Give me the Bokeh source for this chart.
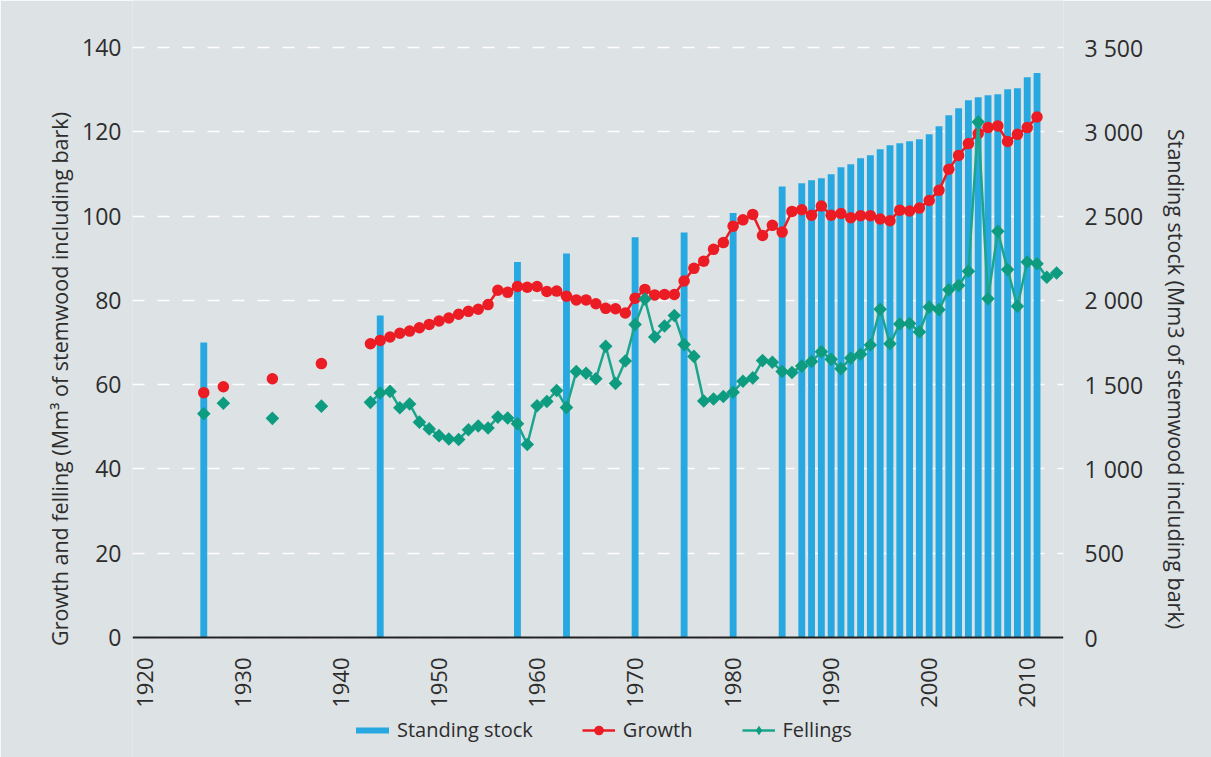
import math
from bokeh.plotting import figure
from bokeh.models import Range1d, LinearAxis, FixedTicker, Legend, LegendItem
from bokeh.embed import file_html
from bokeh.resources import INLINE

# ---------------- data ----------------
stock_years = [1926, 1944, 1958, 1963, 1970, 1975, 1980, 1985,
               1987, 1988, 1989, 1990, 1991, 1992, 1993, 1994, 1995, 1996,
               1997, 1998, 1999, 2000, 2001, 2002, 2003, 2004, 2005, 2006,
               2007, 2008, 2009, 2010, 2011]
standing_stock = [1750, 1910, 2228, 2278, 2375, 2403, 2518, 2676,
                  2694, 2712, 2724, 2748, 2789, 2807, 2843, 2861, 2896, 2920,
                  2932, 2944, 2955, 2985, 3033, 3098, 3139, 3187, 3205, 3217,
                  3223, 3253, 3259, 3323, 3348]

early_years = [1926, 1928, 1933, 1938]
growth_early = [58.1, 59.5, 61.4, 65.0]
fellings_early = [53.1, 55.6, 52.0, 54.9]

growth_start = 1943
growth = [69.7, 70.5, 71.3, 72.2, 72.7, 73.5, 74.3, 75.1, 75.8, 76.7,
          77.4, 77.9, 79.0, 82.4, 81.9, 83.3, 83.1, 83.3, 82.1, 82.2,
          81.0, 80.1, 80.1, 79.2, 78.1, 78.0, 77.0, 80.5, 82.6, 81.3,
          81.4, 81.4, 84.6, 87.6, 89.3, 92.1, 93.7, 97.6, 99.1, 100.4,
          95.4, 97.8, 96.2, 101.1, 101.5, 100.2, 102.4, 100.2, 100.6, 99.6,
          100.1, 100.1, 99.3, 98.9, 101.4, 101.2, 101.9, 103.7, 106.1, 111.1,
          114.4, 117.2, 119.6, 121.0, 121.4, 117.7, 119.4, 121.0, 123.5]

fellings_start = 1943
fellings = [55.8, 58.0, 58.4, 54.5, 55.4, 51.1, 49.5, 47.9, 47.1, 47.0,
            49.3, 50.2, 49.7, 52.3, 52.1, 50.7, 45.8, 55.0, 56.0, 58.6,
            54.6, 63.1, 62.7, 61.4, 69.1, 60.3, 65.6, 74.3, 80.3, 71.3,
            73.9, 76.4, 69.5, 66.7, 56.1, 56.6, 57.2, 58.2, 60.8, 61.6,
            65.7, 65.3, 63.1, 62.9, 64.4, 65.5, 67.8, 66.0, 63.8, 66.3,
            67.2, 69.4, 77.9, 69.7, 74.4, 74.5, 72.5, 78.4, 77.8, 82.5,
            83.5, 86.9, 122.3, 80.4, 96.4, 87.3, 78.6, 89.1, 88.7, 85.5,
            86.5]

growth_years = list(range(growth_start, growth_start + len(growth)))
fellings_years = list(range(fellings_start, fellings_start + len(fellings)))

x_ticks = [1920, 1930, 1940, 1950, 1960, 1970, 1980, 1990, 2000, 2010]
left_ticks = [0, 20, 40, 60, 80, 100, 120, 140]
right_ticks = [0, 500, 1000, 1500, 2000, 2500, 3000, 3500]
right_labels = ["0", "500", "1 000", "1 500", "2 000", "2 500", "3 000", "3 500"]
STOCK_PER_UNIT = 25          # 3 500 on the right axis = 140 on the left axis

# ---------------- style / layout ----------------
BG = "#DDE2E5"
BLUE = "#27A8E0"
RED = "#EC1C24"
GREEN = "#0E9C80"
GREEN_LINE = "#1AA58C"
TXT = "#2d2d2d"
FONT = "Open Sans"

W, H = 1211, 757
PX_PER_UNIT = 590 / 140      # 140 gridline 590 px above the zero line
TOP_PAD, BOTTOM_PAD = 47, 120  # pixels above 140 / below 0 inside the frame
Y_MIN = -BOTTOM_PAD / PX_PER_UNIT
Y_MAX = 140 + TOP_PAD / PX_PER_UNIT

p = figure(width=W, height=H,
           x_range=Range1d(1918.73, 2013.7), y_range=Range1d(Y_MIN, Y_MAX),
           output_backend="svg", toolbar_location=None,
           background_fill_color=BG, border_fill_color=BG,
           outline_line_color=None,
           min_border_left=132, min_border_right=148,
           min_border_top=0, min_border_bottom=0)
p.extra_y_ranges = {"stock": Range1d(Y_MIN * STOCK_PER_UNIT, Y_MAX * STOCK_PER_UNIT)}

# grid
p.xgrid.visible = False
p.ygrid.ticker = FixedTicker(ticks=left_ticks)
p.ygrid.grid_line_color = "white"
p.ygrid.grid_line_width = 1.6
p.ygrid.grid_line_dash = "12 13"

# x axis, drawn at y = 0
xa = p.xaxis[0]
xa.fixed_location = 0
xa.ticker = FixedTicker(ticks=x_ticks)
xa.major_label_orientation = math.pi / 2
xa.axis_line_color = "#222222"
xa.axis_line_width = 2
xa.major_tick_line_color = None
xa.minor_tick_line_color = None
xa.major_label_standoff = 14
xa.major_label_text_font = FONT
xa.major_label_text_font_size = "22px"
xa.major_label_text_color = TXT

# left axis
ya = p.yaxis[0]
ya.ticker = FixedTicker(ticks=left_ticks)
ya.axis_line_color = None
ya.major_tick_line_color = None
ya.minor_tick_line_color = None
ya.major_label_standoff = 5
ya.major_label_text_font = FONT
ya.major_label_text_font_size = "23px"
ya.major_label_text_color = TXT
ya.axis_label = "Growth and felling (Mm\u00b3 of stemwood including bark)"
ya.axis_label_text_font = FONT
ya.axis_label_text_font_size = "21.5px"
ya.axis_label_text_font_style = "normal"
ya.axis_label_text_color = TXT
ya.axis_label_standoff = 5

# right axis
ra = LinearAxis(y_range_name="stock",
                ticker=FixedTicker(ticks=right_ticks),
                major_label_overrides={t: l for t, l in zip(right_ticks, right_labels)})
ra.axis_line_color = None
ra.major_tick_line_color = None
ra.minor_tick_line_color = None
ra.major_label_standoff = 15
ra.major_label_text_font = FONT
ra.major_label_text_font_size = "23px"
ra.major_label_text_color = TXT
ra.axis_label = "Standing stock (Mm3 of stemwood including bark)"
ra.axis_label_text_font = FONT
ra.axis_label_text_font_size = "21.5px"
ra.axis_label_text_font_style = "normal"
ra.axis_label_text_color = TXT
ra.axis_label_standoff = 16
p.add_layout(ra, "right")

# glyphs
p.vbar(x=stock_years, top=standing_stock, width=0.7, y_range_name="stock",
       fill_color=BLUE, line_color=None)
g_line = p.line(growth_years, growth, line_color=RED, line_width=2.5)
g_pts = p.scatter(early_years + growth_years, growth_early + growth,
                  marker="circle", size=11.5, fill_color=RED, line_color=None)
f_line = p.line(fellings_years, fellings, line_color=GREEN_LINE, line_width=2.5)
p.scatter(early_years + fellings_years, fellings_early + fellings,
          marker="square", angle=math.pi / 4, size=9.6,
          fill_color=GREEN, line_color=None)

# legend samples (hidden renderers carrying the same series)
s_proxy = p.line(stock_years, standing_stock, y_range_name="stock",
                 line_color=BLUE, line_width=6, line_cap="round", visible=False)
f_proxy = p.scatter(fellings_years, fellings, marker="diamond", size=17,
                    fill_color=GREEN, line_color=None, visible=False)

legend = Legend(items=[
    LegendItem(label="Standing stock", renderers=[s_proxy]),
    LegendItem(label="Growth", renderers=[g_line, g_pts]),
    LegendItem(label="Fellings", renderers=[f_line, f_proxy]),
], orientation="horizontal", location=(224, 14))
legend.label_text_font = FONT
legend.label_text_font_size = "20px"
legend.label_text_color = TXT
legend.glyph_width = 33
legend.glyph_height = 24
legend.label_height = 24
legend.label_standoff = 8
legend.spacing = 49
legend.padding = 0
legend.margin = 0
legend.inactive_fill_alpha = 0
legend.background_fill_alpha = 0
legend.border_line_color = None
p.add_layout(legend, "center")

open("out.html", "w").write(file_html(p, INLINE))
